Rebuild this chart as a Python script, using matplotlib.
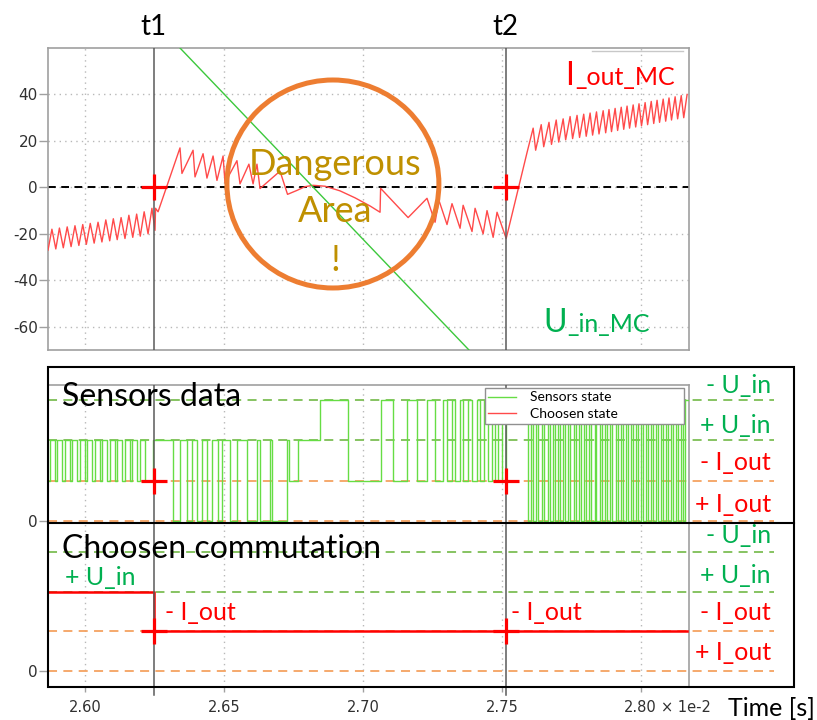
import matplotlib
matplotlib.use('Agg')
import matplotlib.pyplot as plt
from matplotlib.patches import Ellipse, Rectangle
from matplotlib.lines import Line2D

# time axis in units of 1e-2 s
t1 = 2.6247
t2 = 2.7515
x_lo, x_hi = 2.5868, 2.8175
x_ticks = [2.60, 2.65, 2.70, 2.75, 2.80]
x_tick_labels = ['2.60', '2.65', '2.70', '2.75', '2.80']
y_ticks = [-60, -40, -20, 0, 20, 40]
y_tick_labels = ['-60', '-40', '-20', '0', '20', '40']

# I_out_MC (vertices of the sawtooth)
i_t = [2.5867, 2.5881, 2.5895, 2.5908, 2.5922, 2.5936, 2.5950, 2.5964, 2.5978, 2.5992,
       2.6005, 2.6019, 2.6033, 2.6047, 2.6061, 2.6075, 2.6089, 2.6102, 2.6116, 2.6130,
       2.6144, 2.6158, 2.6172, 2.6186, 2.6199, 2.6213, 2.6227, 2.6241,
       2.6252, 2.6254, 2.6263, 2.6342, 2.6349, 2.6389, 2.6396, 2.6425, 2.6439, 2.6461,
       2.6475, 2.6497, 2.6504, 2.6547, 2.6558, 2.6590, 2.6605, 2.6619, 2.6630, 2.6702,
       2.6729, 2.6763, 2.6792, 2.6821, 2.6864, 2.6918, 2.6972, 2.7026, 2.7062, 2.7064,
       2.7163, 2.7231, 2.7260, 2.7274, 2.7303, 2.7321, 2.7350, 2.7361, 2.7393, 2.7404,
       2.7433, 2.7447, 2.7469, 2.7483, 2.7516, 2.7591,
       2.7613, 2.7622, 2.7642, 2.7651, 2.7670, 2.7679, 2.7696, 2.7705, 2.7721, 2.7730,
       2.7746, 2.7755, 2.7771, 2.7780, 2.7795, 2.7804, 2.7818, 2.7827, 2.7841, 2.7850,
       2.7865, 2.7874, 2.7886, 2.7895, 2.7908, 2.7917, 2.7930, 2.7939, 2.7951, 2.7960,
       2.7973, 2.7982, 2.7994, 2.8003, 2.8016, 2.8025, 2.8038, 2.8047, 2.8059, 2.8068,
       2.8081, 2.8090, 2.8102, 2.8111, 2.8124, 2.8133, 2.8146, 2.8155, 2.8167]
i_val = [-27, -18, -26.5, -17.5, -26, -17, -25.5, -16.5, -25, -16,
         -24.5, -15.5, -24, -15, -23.5, -14, -23, -13.5, -22.5, -13,
         -22, -12, -21.5, -11.5, -21, -10.5, -20, -9,
         -18.5, -9, -10.5, 17, 6, 16, 4.5, 14.5, 4, 13.5,
         3, 13.5, 2, 11.5, 1.5, 10, 1.5, 10, -0.5, 7,
         -3, -1.3, 0.3, 0.9, 0.5, -1.5, -4.5, -8, -10.7, -0.4,
         -13, -4.7, -15, -5.6, -16, -7, -17.6, -7.7, -19, -9,
         -20, -10, -21.5, -10.7, -22, 15,
         25.5, 16, 27, 17.5, 28, 18.5, 29, 19.5, 29.5, 20.5,
         30.5, 21, 31, 21.5, 31.5, 22, 32, 22.5, 32.5, 23,
         33, 23.5, 33.5, 24, 34, 24.5, 34.5, 25, 35, 25.5,
         35.5, 26, 36, 26.5, 36.5, 27, 37, 27.5, 37.5, 28,
         38, 28.5, 38.5, 29, 39, 29.5, 39.5, 30, 40]

# U_in_MC
u_t = [2.6342, 2.7382]
u_val = [60, -70]

# sensors state: 0 = +I_out, 1 = -I_out, 2 = +U_in, 3 = -U_in
sens_t = [2.5867, 2.5874, 2.5892, 2.5901, 2.5919, 2.5928, 2.5946, 2.5955, 2.5973, 2.5982,
          2.6000, 2.6009, 2.6027, 2.6036, 2.6054, 2.6063, 2.6081, 2.6090, 2.6108, 2.6117,
          2.6135, 2.6144, 2.6162, 2.6171, 2.6189, 2.6198, 2.6216, 2.6245,
          2.6317, 2.6342, 2.6367, 2.6385, 2.6403, 2.6421, 2.6439, 2.6457, 2.6479, 2.6493,
          2.6522, 2.6547, 2.6583, 2.6619, 2.6630, 2.6666, 2.6673, 2.6727, 2.6734, 2.6767,
          2.6846, 2.6947, 2.7066, 2.7109, 2.7159, 2.7195, 2.7231, 2.7260, 2.7289, 2.7303,
          2.7321, 2.7332, 2.7350, 2.7361, 2.7379, 2.7393, 2.7411, 2.7422, 2.7436, 2.7451,
          2.7465, 2.7476, 2.7487, 2.7501, 2.7516, 2.7595]
sens_lvl = [1, 2, 1, 2, 1, 2, 1, 2, 1, 2,
            1, 2, 1, 2, 1, 2, 1, 2, 1, 2,
            1, 2, 1, 2, 1, 2, 1, 2,
            0, 2, 0, 2, 0, 2, 0, 2, 0, 2,
            0, 2, 0, 2, 0, 2, 0, 2, 1, 2,
            3, 1, 3, 1, 3, 1, 3, 1, 3, 1,
            3, 1, 3, 1, 3, 1, 3, 1, 3, 1,
            3, 1, 3, 1, 3, 0]
dense_up = [2.7606, 2.7625, 2.7645, 2.7665, 2.7685, 2.7703, 2.7721, 2.7739, 2.7759, 2.7778,
            2.7796, 2.7814, 2.7834, 2.7854, 2.7872, 2.7890, 2.7910, 2.7930, 2.7948, 2.7966,
            2.7984, 2.8002, 2.8020, 2.8038, 2.8056, 2.8074, 2.8092, 2.8110, 2.8128, 2.8146,
            2.8160]
dense_down = [2.7613, 2.7632, 2.7652, 2.7672, 2.7692, 2.7710, 2.7728, 2.7746, 2.7766, 2.7785,
              2.7803, 2.7821, 2.7841, 2.7861, 2.7879, 2.7897, 2.7917, 2.7937, 2.7955, 2.7973,
              2.7991, 2.8009, 2.8027, 2.8045, 2.8063, 2.8081, 2.8099, 2.8117, 2.8135, 2.8153]
sens_end = 2.8175

# chosen commutation
comm_t = [2.5868, 2.6247, 2.8167]
comm_lvl = [2, 1, 1]

levels = [0, 1, 2, 3]
level_names = ['+ I_out', '- I_out', '+ U_in', '- U_in']
level_cols = ['#FF0000', '#FF0000', '#00B050', '#00B050']
level_line_cols = ['#F4A261', '#F4A261', '#7DBE55', '#7DBE55']

W, H = 817, 720


def fx(px):
    return px / W


def fy(py):
    return 1 - py / H


plt.rcParams['font.family'] = 'DejaVu Sans'
fig = plt.figure(figsize=(W / 100, H / 100), dpi=100)
fig.patch.set_facecolor('white')

grid_kw = dict(color='#B8B8B8', linestyle=(0, (1, 3)), linewidth=1)
frame_col = '#A0A0A0'
tline_col = '#5A5A5A'

# ---------------- top: currents / voltage ----------------
ax1 = fig.add_axes([fx(48.3), fy(350), 641 / W, 302 / H])
ax1.set_xlim(x_lo, x_hi)
ax1.set_ylim(-70, 60)
ax1.set_xticks(x_ticks)
ax1.set_yticks(y_ticks)
ax1.set_yticklabels(y_tick_labels)
ax1.tick_params(axis='x', length=0, labelbottom=False)
ax1.tick_params(axis='y', length=6.5, width=1, color=frame_col, pad=1,
                labelsize=11, labelcolor='#303030')
ax1.grid(True, **grid_kw)
for s in ax1.spines.values():
    s.set_color(frame_col)
    s.set_linewidth(1.2)

ax1.axhline(0, color='black', lw=1.4, ls=(0, (4, 2.8)), zorder=2)
ax1.plot(i_t, i_val, color='#FF4A4A', lw=1.0, zorder=3)
ax1.plot(u_t, u_val, color='#3CC83C', lw=1.0, zorder=3)
for t in (t1, t2):
    ax1.axvline(t, color=tline_col, lw=1.1, zorder=4)
    ax1.plot([t], [0], marker='+', ms=19, mew=2.3, color='#FF0000', zorder=5)
ax1.add_patch(Ellipse((0.444, 0.5497), 0.3307, 0.6887, transform=ax1.transAxes,
                      fill=False, ec='#ED7D31', lw=3.6, zorder=6))

# ---------------- lower block: sensors / commutation ----------------
ax2 = fig.add_axes([fx(48.3), fy(523), 641 / W, 138 / H])
ax3 = fig.add_axes([fx(48.3), fy(687), 641 / W, 164 / H])
ax2.set_ylim(-0.05, 3.372)
ax3.set_ylim(-0.403, 3.731)
for ax in (ax2, ax3):
    ax.set_xlim(x_lo, x_hi)
    ax.set_xticks(x_ticks)
    ax.set_yticks([0])
    ax.set_yticklabels(['0'])
    ax.grid(True, axis='x', **grid_kw)
    ax.tick_params(axis='y', length=6.5, width=1, color=frame_col, pad=1,
                   labelsize=11, labelcolor='#303030')
    for s in ax.spines.values():
        s.set_color(frame_col)
        s.set_linewidth(1.2)
    for lv, c in zip(levels, level_line_cols):
        ax.plot([x_lo, 2.848], [lv, lv], color=c, lw=1.3, ls=(0, (5, 3.5)),
                clip_on=False, zorder=2)

ax2.tick_params(axis='x', length=0, labelbottom=False)
ax3.set_xticklabels(x_tick_labels)
ax3.tick_params(axis='x', length=3.5, width=1, color=frame_col, pad=6,
                labelsize=10.5, labelcolor='#303030')

st = list(sens_t)
sl = list(sens_lvl)
for k, tu in enumerate(dense_up):
    st.append(tu)
    sl.append(3)
    if k < len(dense_down):
        st.append(dense_down[k])
        sl.append(0)
st.append(sens_end)
sl.append(sl[-1])
ax2.plot(st, sl, drawstyle='steps-post', color='#66DD44', lw=1.0, zorder=3)

ax3.plot(comm_t, comm_lvl, drawstyle='steps-post', color='#FF0000', lw=1.8, zorder=3)

for t in (t1, t2):
    ax2.axvline(t, color=tline_col, lw=1.1, zorder=4)
    ax2.plot([t], [1], marker='+', ms=19, mew=2.3, color='#FF0000', zorder=5)
    ax3.plot([t, t], [-0.6, 3.731], color=tline_col, lw=1.1, zorder=4, clip_on=False)
    ax3.plot([t], [1], marker='+', ms=19, mew=2.3, color='#FF0000', zorder=5)

leg_handles = [Line2D([], [], color='#66DD44', lw=1.0),
               Line2D([], [], color='#FF4A4A', lw=1.0)]
leg = ax2.legend(leg_handles, ['Sensors state', 'Choosen state'],
                 loc='upper left', mode='expand',
                 bbox_to_anchor=(fx(485), fy(425), 199 / W, 37 / H),
                 bbox_transform=fig.transFigure, borderaxespad=0,
                 prop={'family': 'Lato', 'size': 10}, fancybox=False,
                 framealpha=1, edgecolor='#909090', borderpad=0.25,
                 labelspacing=0.35, handlelength=2.0, handletextpad=1.0)
leg.get_frame().set_linewidth(1.0)
leg.set_zorder(10)

# outer black frame of the lower block
fig.add_artist(Rectangle((fx(48), fy(687)), 746 / W, 320 / H, transform=fig.transFigure,
                         fill=False, ec='black', lw=1.5, zorder=5))
fig.add_artist(Line2D([fx(48), fx(794)], [fy(523), fy(523)], color='black', lw=1.5,
                      zorder=5))
fig.add_artist(Line2D([fx(592), fx(683)], [fy(51), fy(51)], color='#C8C8C8', lw=1.0))

# ---------------- texts ----------------
big = dict(family='Lato', va='baseline')
fig.text(fx(153), fy(35), 't1', ha='center', fontsize=20, color='black', **big)
fig.text(fx(505), fy(35), 't2', ha='center', fontsize=20, color='black', **big)
fig.text(fx(565), fy(85), 'I', ha='left', fontsize=23, color='#FF0000', **big)
fig.text(fx(575.5), fy(85), '_out_MC', ha='left', fontsize=18, color='#FF0000', **big)
fig.text(fx(543), fy(332), 'U', ha='left', fontsize=23, color='#00B050', **big)
fig.text(fx(567.5), fy(332), '_in_MC', ha='left', fontsize=18, color='#00B050', **big)

gold = '#BF9000'
fig.text(fx(335), fy(175), 'Dangerous', ha='center', fontsize=26, color=gold,
         zorder=7, **big)
fig.text(fx(335), fy(222), 'Area', ha='center', fontsize=26, color=gold, zorder=7, **big)
fig.text(fx(335), fy(271), '!', ha='center', fontsize=26, color=gold, zorder=7, **big)

fig.text(fx(62), fy(406), 'Sensors data', ha='left', fontsize=23, color='black', **big)
fig.text(fx(62), fy(558), 'Choosen commutation', ha='left', fontsize=23, color='black',
         **big)

sens_base = [512, 470, 433, 393]
comm_base = [660, 620, 583, 543]
for name, col, b1, b2 in zip(level_names, level_cols, sens_base, comm_base):
    fig.text(fx(771), fy(b1), name, ha='right', fontsize=18, color=col, **big)
    fig.text(fx(771), fy(b2), name, ha='right', fontsize=18, color=col, **big)

fig.text(fx(65), fy(585), '+ U_in', ha='left', fontsize=18, color='#00B050', **big)
fig.text(fx(165), fy(620), '- I_out', ha='left', fontsize=18, color='#FF0000', **big)
fig.text(fx(511), fy(620), '- I_out', ha='left', fontsize=18, color='#FF0000', **big)

fig.text(fx(661), fy(707), '\u00d7 1e-2', ha='left', va='center', fontsize=10.5,
         color='#303030')
fig.text(fx(728), fy(716), 'Time [s]', ha='left', fontsize=18, color='black', **big)

fig.savefig('out.png', dpi=100)
